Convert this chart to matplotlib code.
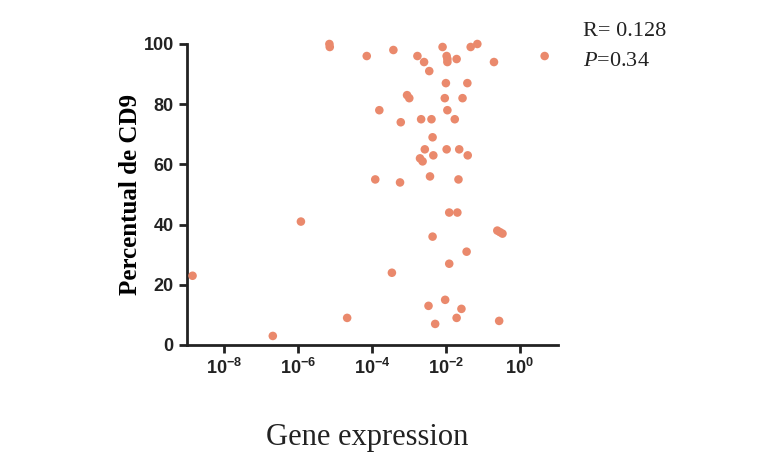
import matplotlib
matplotlib.use("Agg")
import matplotlib.pyplot as plt
import numpy as np

# log10 of gene expression and CD9 percentage
log_expr = [
    -8.85, -6.68, -5.92, -5.15, -5.14, -4.67, -4.14, -3.91, -3.80, -3.42,
    -3.46, -3.24, -3.22, -3.05, -2.99, -2.77, -2.67, -2.59, -2.70, -2.63,
    -2.57, -2.45, -2.43, -2.39, -2.36, -2.34, -2.36, -2.47, -2.29, -2.09,
    -1.98, -1.96, -1.96, -2.00, -2.03, -1.96, -1.98, -2.02, -1.91, -1.69,
    -1.91, -1.71, -1.76, -1.64, -1.66, -1.58, -1.71, -1.55, -1.42, -1.41,
    -1.44, -1.33, -1.15, -0.70, -0.61, -0.54, -0.47, -0.56, 0.67,
]
cd9_pct = [
    23, 3, 41, 100, 99, 9, 96, 55, 78, 98,
    24, 54, 74, 83, 82, 96, 75, 94, 62, 61,
    65, 91, 56, 75, 69, 63, 36, 13, 7, 99,
    96, 95, 94, 87, 82, 78, 65, 15, 44, 44,
    27, 95, 75, 65, 55, 12, 9, 82, 87, 63,
    31, 99, 100, 94, 38, 37.5, 37, 8, 96,
]
x_ticks = [1e-8, 1e-6, 1e-4, 1e-2, 1e0]
x_tick_labels = ["$\\mathbf{10^{-8}}$", "$\\mathbf{10^{-6}}$", "$\\mathbf{10^{-4}}$",
                 "$\\mathbf{10^{-2}}$", "$\\mathbf{10^{0}}$"]
y_ticks = [0, 20, 40, 60, 80, 100]

plt.rcParams["mathtext.fontset"] = "custom"
plt.rcParams["mathtext.bf"] = "Liberation Sans:bold"
plt.rcParams["mathtext.rm"] = "Liberation Sans"
plt.rcParams["mathtext.it"] = "Liberation Serif:italic"

fig = plt.figure(figsize=(7.58, 4.63), dpi=100)
ax = fig.add_axes([0.2467, 0.2549, 0.4894, 0.6501])

ax.scatter(10 ** np.array(log_expr), cd9_pct, s=38, color="#EA896C",
           edgecolors="none", clip_on=False, zorder=3)

ax.set_xscale("log")
ax.set_xlim(10 ** -9.0, 10 ** 1.03)
ax.set_ylim(0, 100)
ax.set_xticks(x_ticks)
ax.set_xticklabels(x_tick_labels)
ax.minorticks_off()
ax.set_yticks(y_ticks)

for side in ["top", "right"]:
    ax.spines[side].set_visible(False)
for side in ["left", "bottom"]:
    ax.spines[side].set_linewidth(2)
    ax.spines[side].set_color("#222222")

ax.tick_params(axis="both", width=2, length=6, color="#222222",
               labelsize=13, labelcolor="#222222")
plt.setp(ax.get_yticklabels(), fontweight="bold", family="Liberation Sans")

ax.set_ylabel("Percentual de CD9", family="Liberation Serif", fontweight="bold",
              fontsize=18, labelpad=1)
fig.text(0.485, 0.054, "Gene expression", family="Liberation Serif",
         fontsize=22, ha="center", va="center", color="#222222")

fig.text(0.769, 0.933, "R= 0.128", family="Liberation Serif", fontsize=16,
         ha="left", va="center", color="#222222")
fig.text(0.769, 0.868, "$\\it{P}$=0.34", family="Liberation Serif", fontsize=16,
         ha="left", va="center", color="#222222")

fig.savefig("out.png", dpi=100)
